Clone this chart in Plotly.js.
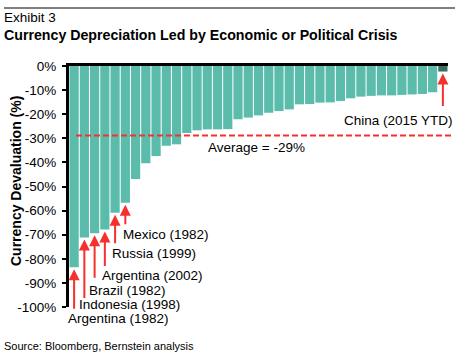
<!DOCTYPE html>
<html><head><meta charset="utf-8">
<script src="https://cdn.plot.ly/plotly-3.0.1.min.js"></script>
<style>html,body{margin:0;padding:0;background:#fff}#chart{width:460px;height:352px}</style>
</head><body><div id="chart"></div>
<script>
// Currency devaluation episodes (%), sorted from worst to mildest; last = China (2015 YTD)
const devaluation = [-83.5, -71.2, -69.4, -67.8, -60.9, -56.7, -46.9, -40.4, -37.3, -33.1,
  -32.5, -27.8, -26.7, -26.3, -26.3, -26.2, -22.1, -21.4, -20.5, -19.4,
  -18.7, -18.0, -15.9, -15.8, -15.2, -15.1, -14.5, -13.4, -12.7, -12.4,
  -12.2, -12.2, -12.0, -11.8, -11.6, -10.9, -2.3];
const episodeIndex = devaluation.map((v, i) => i);
const highlightIndex = 36;
const crisisLabels = ['Argentina (1982)', 'Indonesia (1998)', 'Brazil (1982)', 'Argentina (2002)', 'Russia (1999)', 'Mexico (1982)'];
const crisisBars = [0, 1, 2, 3, 4, 5];
const chinaLabel = 'China (2015 YTD)';
const yTickVals = [0, -10, -20, -30, -40, -50, -60, -70, -80, -90, -100];
const yTickText = ['0%', '-10%', '-20%', '-30%', '-40%', '-50%', '-60%', '-70%', '-80%', '-90%', '-100%'];

const others = devaluation.filter((v, i) => i !== highlightIndex);
const average = others.reduce((a, b) => a + b, 0) / others.length;

const FONT = 'Arial, "Liberation Sans", sans-serif';
const RED = '#f5302e';
const TEAL = '#5bbcac';
const DARK = '#3b6c62';

const colors = episodeIndex.map(i => i === highlightIndex ? DARK : TEAL);

const trace = {
  type: 'bar', x: episodeIndex, y: devaluation,
  marker: {color: colors, line: {width: 0}},
  hoverinfo: 'skip'
};

// Pixel helpers for positioning text in paper coordinates
const L = 69, R = 12, T = 66, B = 45, W = 460, H = 352;
const pw = W - L - R, ph = H - T - B;
const px = x => (x - L) / pw;
const py = y => (H - B - y) / ph;

const arrowTails = [43, 62, 46, 38, 32, 23];
const labelLeft = [67, 78, 88, 101, 111, 122];
const labelY = [318, 304, 290, 275, 253, 234];

const annotations = [];
crisisBars.forEach((b, k) => {
  annotations.push({x: b, y: devaluation[b], xref: 'x', yref: 'y', text: '', showarrow: true,
    ax: 0, ay: arrowTails[k], arrowcolor: RED, arrowwidth: 2, arrowhead: 2, arrowsize: 1.1, standoff: 2});
  annotations.push({x: px(labelLeft[k]), y: py(labelY[k]), xref: 'paper', yref: 'paper',
    text: crisisLabels[k], showarrow: false, xanchor: 'left', yanchor: 'middle', borderpad: 0,
    font: {family: FONT, size: 13.5, color: '#000'}});
});
annotations.push({x: highlightIndex, y: devaluation[highlightIndex], xref: 'x', yref: 'y', text: '', showarrow: true,
  ax: 0, ay: 36, arrowcolor: RED, arrowwidth: 2, arrowhead: 2, arrowsize: 1.1, standoff: 2});
annotations.push({x: px(454), y: py(120), xref: 'paper', yref: 'paper', text: chinaLabel, showarrow: false,
  xanchor: 'right', yanchor: 'middle', borderpad: 0, font: {family: FONT, size: 13.5, color: '#000'}});
annotations.push({x: px(207), y: py(147), xref: 'paper', yref: 'paper',
  text: 'Average = ' + Math.round(average) + '%', showarrow: false, borderpad: 0,
  xanchor: 'left', yanchor: 'middle', font: {family: FONT, size: 13.5, color: '#000'}});
annotations.push({x: px(3), y: py(17), xref: 'paper', yref: 'paper', text: 'Exhibit 3', showarrow: false,
  xanchor: 'left', yanchor: 'middle', borderpad: 0, font: {family: FONT, size: 13.5, color: '#000'}});
annotations.push({x: px(3), y: py(35), xref: 'paper', yref: 'paper', text: '<b>Currency Depreciation Led by Economic or Political Crisis</b>',
  showarrow: false, xanchor: 'left', yanchor: 'middle', borderpad: 0, font: {family: FONT, size: 14.2, color: '#000'}});
annotations.push({x: px(3), y: py(346), xref: 'paper', yref: 'paper', text: 'Source: Bloomberg, Bernstein analysis',
  showarrow: false, xanchor: 'left', yanchor: 'middle', borderpad: 0, font: {family: FONT, size: 11, color: '#000'}});
annotations.push({x: px(16), y: py(181), xref: 'paper', yref: 'paper', text: '<b>Currency Devaluation (%)</b>',
  showarrow: false, textangle: -90, xanchor: 'center', yanchor: 'middle', borderpad: 0, font: {family: FONT, size: 14, color: '#000'}});

const layout = {
  width: W, height: H,
  margin: {l: L, r: R, t: T, b: B, pad: 0},
  paper_bgcolor: '#fff', plot_bgcolor: '#fff',
  showlegend: false, bargap: 0.1,
  font: {family: FONT, color: '#000'},
  xaxis: {range: [-0.5, 36.5], showticklabels: false, ticks: '', showgrid: false, zeroline: false,
    showline: true, side: 'top', linecolor: '#000', linewidth: 3, fixedrange: true},
  yaxis: {range: [-100, 0], tickvals: yTickVals, ticktext: yTickText, ticks: 'outside', ticklen: 4,
    tickwidth: 2, tickcolor: '#000', showgrid: false, zeroline: false, showline: true, linecolor: '#000',
    linewidth: 3, ticklabelstandoff: 3, tickfont: {family: FONT, size: 13.5, color: '#000'}},
  shapes: [
    {type: 'line', xref: 'paper', yref: 'y', x0: px(76), x1: px(453), y0: average, y1: average,
      line: {color: RED, width: 2, dash: '6px,3px'}},
    {type: 'line', xref: 'paper', yref: 'paper', x0: px(4), x1: px(455), y0: py(8), y1: py(8),
      line: {color: '#000', width: 1}}
  ],
  annotations: annotations
};

Plotly.newPlot('chart', [trace], layout, {displayModeBar: false, staticPlot: true});
</script></body></html>
